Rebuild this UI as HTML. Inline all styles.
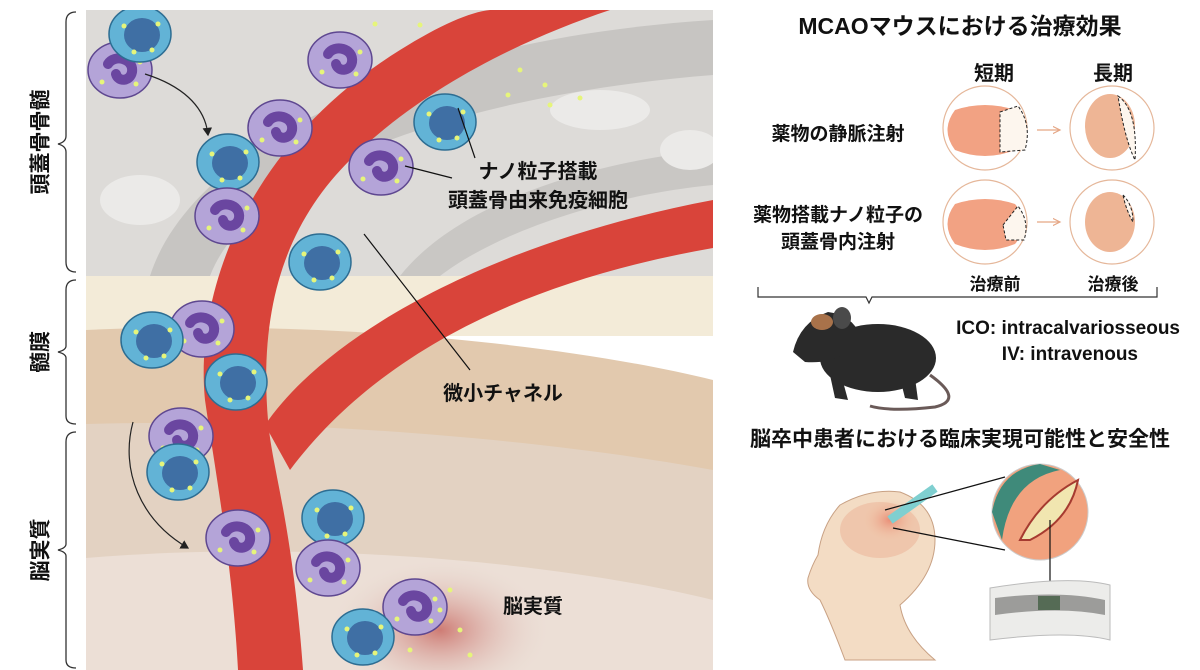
<!DOCTYPE html>
<html><head><meta charset="utf-8"><style>
html,body{margin:0;padding:0;background:#fff;}
svg{display:block;}
text{font-family:"Liberation Sans","Noto Sans CJK JP",sans-serif;font-weight:bold;fill:#111;}
</style></head><body>
<svg width="1200" height="670" viewBox="0 0 1200 670" xmlns="http://www.w3.org/2000/svg">
<defs>
<clipPath id="pc"><rect x="86" y="10" width="627" height="660"/></clipPath>
<radialGradient id="glow" cx="0.5" cy="0.5" r="0.5"><stop offset="0" stop-color="#c96a63" stop-opacity="0.85"/><stop offset="1" stop-color="#e6d8d2" stop-opacity="0"/></radialGradient>
<radialGradient id="hglow" cx="0.5" cy="0.5" r="0.5"><stop offset="0" stop-color="#e8806a" stop-opacity="0.8"/><stop offset="1" stop-color="#f2c9a8" stop-opacity="0"/></radialGradient>
<marker id="ar" markerWidth="8" markerHeight="8" refX="6" refY="4" orient="auto"><path d="M0,0 L7,4 L0,8 z" fill="#222"/></marker>
<marker id="ar2" markerWidth="8" markerHeight="8" refX="6" refY="4" orient="auto"><path d="M0,1 L6,4 L0,7" fill="none" stroke="#e5a685"/></marker>
<g id="bc"><ellipse rx="31" ry="28" fill="#62b3d6" stroke="#2d6d92" stroke-width="1.5"/><ellipse cx="2" cy="1" rx="18" ry="17" fill="#3f6fa4"/><circle cx="-16" cy="-8" r="2.5" fill="#e6f57a"/><circle cx="12" cy="16" r="2.5" fill="#e6f57a"/><circle cx="18" cy="-10" r="2.5" fill="#e6f57a"/><circle cx="-6" cy="18" r="2.5" fill="#e6f57a"/></g>
<g id="pcell"><ellipse rx="32" ry="28" fill="#b4a4d8" stroke="#5e4790" stroke-width="1.5"/><path d="M-12,-6 C-6,-16 14,-12 12,2 C10,12 -2,12 -4,4" fill="none" stroke="#6a46a0" stroke-width="10" stroke-linecap="round"/><circle cx="-18" cy="12" r="2.5" fill="#e6f57a"/><circle cx="16" cy="14" r="2.5" fill="#e6f57a"/><circle cx="20" cy="-8" r="2.5" fill="#e6f57a"/></g>
</defs>

<g stroke="#333" stroke-width="1.3" fill="none">
<path d="M76,12 Q66,12 66,22 L66,136 Q66,142 58,144 Q66,146 66,152 L66,262 Q66,272 76,272"/>
<path d="M76,280 Q66,280 66,290 L66,346 Q66,350 58,352 Q66,354 66,358 L66,416 Q66,424 76,424"/>
<path d="M76,432 Q66,432 66,442 L66,544 Q66,548 58,550 Q66,552 66,556 L66,660 Q66,668 76,668"/>
</g>
<text font-size="21" x="42" y="142" text-anchor="middle" transform="rotate(-90 42 142)" dominant-baseline="middle">頭蓋骨骨髄</text>
<text font-size="21" x="42" y="352" text-anchor="middle" transform="rotate(-90 42 352)" dominant-baseline="middle">髄膜</text>
<text font-size="21" x="42" y="550" text-anchor="middle" transform="rotate(-90 42 550)" dominant-baseline="middle">脳実質</text>

<g clip-path="url(#pc)">
<rect x="86" y="10" width="627" height="266" fill="#dddbd8"/>
<path d="M150,276 C190,150 400,40 713,20 L713,75 C460,95 250,170 210,276 Z" fill="#c7c5c2"/>
<path d="M400,276 C460,200 600,160 713,150 L713,185 C610,195 500,230 440,276 Z" fill="#c9c7c4"/>
<ellipse cx="140" cy="200" rx="40" ry="25" fill="#ebeae8"/>
<ellipse cx="600" cy="110" rx="50" ry="20" fill="#ebeae8"/>
<ellipse cx="690" cy="150" rx="30" ry="20" fill="#ebeae8"/>
<rect x="86" y="276" width="627" height="60" fill="#f3ebd8"/>
<path d="M86,330 C300,320 550,340 713,380 L713,670 L86,670 Z" fill="#e2c9ae"/>
<path d="M86,424 C300,418 550,440 713,470 L713,670 L86,670 Z" fill="#e3d2c2"/>
<path d="M86,558 C300,540 550,560 713,600 L713,670 L86,670 Z" fill="#ecdfd6"/>
<ellipse cx="440" cy="630" rx="110" ry="70" fill="url(#glow)"/>
<path d="M238,670 C232,560 215,470 205,400 C195,300 240,150 400,50 C440,25 470,12 490,10 L610,10 C520,40 420,90 350,160 C290,220 258,300 268,420 C272,470 292,520 303,670 Z" fill="#d9443a"/>
<path d="M265,425 C330,330 500,240 713,200 L713,248 C530,280 380,350 290,470 Z" fill="#d9443a"/>
<use href="#pcell" x="120" y="70"/>
<use href="#bc" x="140" y="34"/>
<use href="#pcell" x="340" y="60"/>
<use href="#pcell" x="280" y="128"/>
<use href="#bc" x="228" y="162"/>
<use href="#pcell" x="227" y="216"/>
<use href="#bc" x="445" y="122"/>
<use href="#pcell" x="381" y="167"/>
<use href="#bc" x="320" y="262"/>
<use href="#pcell" x="202" y="329"/>
<use href="#bc" x="152" y="340"/>
<use href="#bc" x="236" y="382"/>
<use href="#pcell" x="181" y="436"/>
<use href="#bc" x="178" y="472"/>
<use href="#bc" x="333" y="518"/>
<use href="#pcell" x="238" y="538"/>
<use href="#pcell" x="328" y="568"/>
<use href="#pcell" x="415" y="607"/>
<use href="#bc" x="363" y="637"/>
<g fill="#e6f57a">
<circle cx="520" cy="70" r="2.5"/><circle cx="545" cy="85" r="2.5"/><circle cx="508" cy="95" r="2.5"/><circle cx="550" cy="105" r="2.5"/><circle cx="580" cy="98" r="2.5"/><circle cx="375" cy="24" r="2.5"/><circle cx="420" cy="25" r="2.5"/>
<circle cx="440" cy="610" r="2.5"/><circle cx="460" cy="630" r="2.5"/><circle cx="410" cy="650" r="2.5"/><circle cx="470" cy="655" r="2.5"/><circle cx="450" cy="590" r="2.5"/>
</g>
</g>
<path d="M145,74 C180,85 205,105 208,135" stroke="#222" stroke-width="1.2" fill="none" marker-end="url(#ar)"/>
<path d="M133,422 C120,470 140,520 188,548" stroke="#222" stroke-width="1.2" fill="none" marker-end="url(#ar)"/>
<line x1="458" y1="108" x2="475" y2="158" stroke="#111" stroke-width="1.2"/>
<line x1="405" y1="166" x2="452" y2="178" stroke="#111" stroke-width="1.2"/>
<line x1="364" y1="234" x2="470" y2="370" stroke="#111" stroke-width="1.2"/>
<text font-size="20" x="538" y="178" text-anchor="middle">ナノ粒子搭載</text>
<text font-size="20" x="538" y="207" text-anchor="middle">頭蓋骨由来免疫細胞</text>
<text font-size="20" x="503" y="400" text-anchor="middle">微小チャネル</text>
<text font-size="20" x="533" y="613" text-anchor="middle">脳実質</text>

<text font-size="23" x="960" y="34" text-anchor="middle">MCAOマウスにおける治療効果</text>
<text font-size="20" x="994" y="80" text-anchor="middle">短期</text>
<text font-size="20" x="1113" y="80" text-anchor="middle">長期</text>
<text font-size="19" x="838" y="140" text-anchor="middle">薬物の静脈注射</text>
<text font-size="19" x="838" y="221" text-anchor="middle">薬物搭載ナノ粒子の</text>
<text font-size="19" x="838" y="248" text-anchor="middle">頭蓋骨内注射</text>
<g stroke="#e5b79a" stroke-width="1.2" fill="#fff">
<circle cx="985" cy="128" r="42"/><circle cx="1112" cy="128" r="42"/><circle cx="985" cy="222" r="42"/><circle cx="1112" cy="222" r="42"/>
</g>
<g fill="#f2a283">
<path d="M955,110 Q985,100 1015,110 Q1032,130 1015,150 Q985,162 955,150 Q940,130 955,110Z"/>
<path d="M955,204 Q985,194 1015,204 Q1032,224 1015,244 Q985,256 955,244 Q940,224 955,204Z"/>
</g>
<path d="M1000,112 L1018,106 Q1032,125 1025,150 L1000,152 Z" fill="#fdf6ee" stroke="#222" stroke-dasharray="3,2"/>
<path d="M1003,225 L1018,206 Q1030,222 1024,240 L1006,240 Z" fill="#fdf6ee" stroke="#222" stroke-dasharray="3,2"/>
<g fill="#eeb595">
<ellipse cx="1110" cy="126" rx="25" ry="32"/><ellipse cx="1110" cy="222" rx="25" ry="30"/>
</g>
<path d="M1118,96 Q1138,110 1135,160 Q1125,140 1118,96Z" fill="#fdf6ee" stroke="#222" stroke-dasharray="3,2"/>
<path d="M1123,195 Q1133,205 1133,222 Q1126,210 1123,195Z" fill="#fdf6ee" stroke="#222" stroke-dasharray="3,2"/>
<g stroke="#e5a685" stroke-width="1.2"><line x1="1037" y1="130" x2="1060" y2="130" marker-end="url(#ar2)"/><line x1="1037" y1="222" x2="1060" y2="222" marker-end="url(#ar2)"/></g>
<text font-size="17" x="995" y="290" text-anchor="middle">治療前</text>
<text font-size="17" x="1113" y="290" text-anchor="middle">治療後</text>
<path d="M758,287 L758,297 L866,297 L869,303 L872,297 L1157,297 L1157,287" stroke="#333" stroke-width="1.2" fill="none"/>
<g fill="#2a2a2a">
<ellipse cx="878" cy="358" rx="58" ry="34"/>
<path d="M793,352 Q800,322 828,312 Q852,315 860,335 Q845,365 805,362 Z"/>
<ellipse cx="822" cy="322" rx="11" ry="8" fill="#a8724a"/>
<ellipse cx="842" cy="318" rx="9" ry="11" fill="#4a4a4a"/>
<path d="M830,375 L835,398 L848,400 L842,378Z"/><path d="M900,378 L905,398 L918,400 L915,378Z"/>
</g>
<path d="M930,375 Q965,400 935,407 Q890,412 870,406" stroke="#6a5a58" stroke-width="3" fill="none"/>
<text font-size="19" x="1180" y="334" text-anchor="end">ICO: intracalvariosseous</text>
<text font-size="19" x="1138" y="360" text-anchor="end">IV: intravenous</text>
<text font-size="21" x="960" y="446" text-anchor="middle">脳卒中患者における臨床実現可能性と安全性</text>
<path d="M845,660 Q830,620 820,600 Q806,590 808,578 Q812,565 818,555 Q822,525 840,505 Q870,488 900,492 Q935,505 935,540 Q935,575 900,605 Q905,635 935,660 Z" fill="#f3dcc4" stroke="#c8a184"/>
<ellipse cx="880" cy="530" rx="40" ry="28" fill="#eec0a6" opacity="0.8"/>
<ellipse cx="890" cy="520" rx="28" ry="22" fill="url(#hglow)"/>
<path d="M890,520 L935,488" stroke="#7fcfd0" stroke-width="9"/>
<line x1="885" y1="510" x2="1005" y2="477" stroke="#111" stroke-width="1.2"/>
<line x1="893" y1="528" x2="1005" y2="550" stroke="#111" stroke-width="1.2"/>
<circle cx="1040" cy="512" r="48" fill="#f1a27e" stroke="#ccc"/>
<path d="M992,512 Q1000,470 1040,464 L1060,470 Q1010,480 1002,540 Z" fill="#3f8a7a"/>
<path d="M1020,540 Q1040,500 1078,480 Q1070,520 1030,540 Z" fill="#f1e6b0" stroke="#a63b30" stroke-width="2"/>
<line x1="1050" y1="520" x2="1050" y2="590" stroke="#111" stroke-width="1.2"/>
<path d="M990,588 Q1070,575 1110,585 L1110,640 Q1070,630 990,640 Z" fill="#ececea" stroke="#bbb"/>
<path d="M995,598 Q1060,590 1105,600 L1105,615 Q1060,606 995,615 Z" fill="#9c9c9a"/>
<rect x="1038" y="596" width="22" height="14" fill="#556b55"/>
</svg>
</body></html>
